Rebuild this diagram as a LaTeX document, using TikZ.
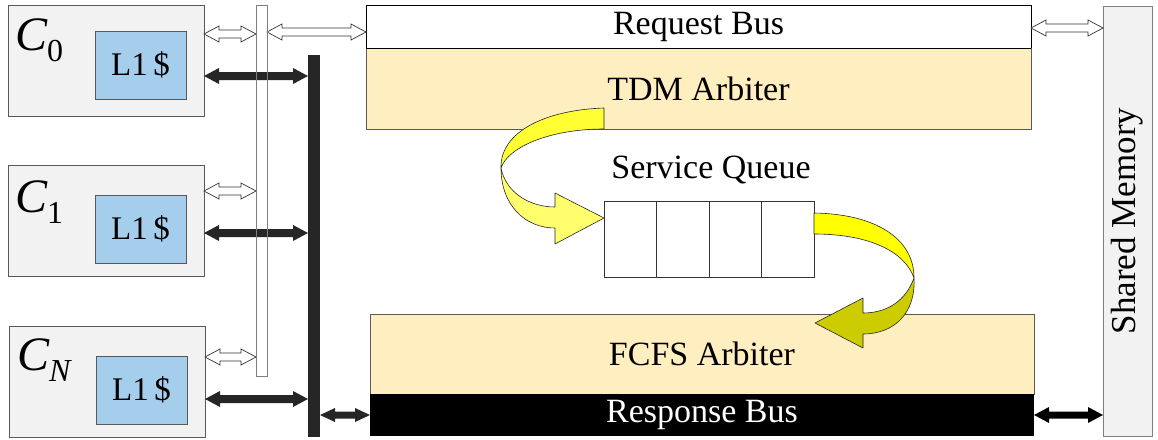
\documentclass[tikz,border=0pt]{standalone}
\usepackage{fontspec}
\setmainfont{Liberation Serif}
\usetikzlibrary{calc}

\definecolor{coregray}{RGB}{242,242,242}
\definecolor{coreline}{RGB}{89,89,89}
\definecolor{cacheblue}{RGB}{164,206,236}
\definecolor{arbfill}{RGB}{255,239,192}
\definecolor{busdark}{RGB}{38,38,38}
\definecolor{memline}{RGB}{127,127,127}
\definecolor{ylwA}{RGB}{255,255,51}
\definecolor{ylwB}{RGB}{255,255,110}
\definecolor{ylwC}{RGB}{255,255,0}
\definecolor{olive}{RGB}{204,204,0}

\newcommand\lblsize{\fontsize{34}{40}\selectfont}
\newcommand\corelabel[1]{{\fontsize{48}{50}\selectfont\itshape C}{\fontsize{32}{34}\selectfont\raisebox{-11pt}{#1}}}

% horizontal double-headed block arrow between two points (same height)
\newcommand\blockarrow[5]{%
  \path[#1] let \p1=#2, \p2=#3 in
    (\x1,\y2) -- (\x1+15pt,\y2+#4) -- (\x1+15pt,\y2+#5) -- (\x2-15pt,\y2+#5)
    -- (\x2-15pt,\y2+#4) -- (\x2,\y2) -- (\x2-15pt,\y2-#4) -- (\x2-15pt,\y2-#5)
    -- (\x1+15pt,\y2-#5) -- (\x1+15pt,\y2-#4) -- cycle;}

\tikzset{
  box/.style={rectangle, inner sep=0pt, outer sep=0pt, anchor=north west, line width=0.8pt},
  core/.style={box, fill=coregray, draw=coreline, minimum width=196pt, minimum height=111pt},
  cache/.style={box, fill=cacheblue, draw=coreline, minimum width=91pt, minimum height=68pt,
    font=\fontsize{33}{36}\selectfont},
  arbiter/.style={box, fill=arbfill, draw=coreline, font=\lblsize},
  cell/.style={box, fill=white, draw=black!80, minimum width=52.5pt, minimum height=76pt},
  hollow/.style={draw=black!80, fill=white, line width=0.7pt},
  solid/.style={fill=busdark},
  ribbon/.style={draw=black!85, line width=0.6pt, line join=round},
}

\begin{document}
\begin{tikzpicture}[x=1pt,y=-1pt]
\useasboundingbox (0,0) rectangle (1158,439);

% processor cores with private caches
\node[core] (c0) at (8,5) {};
\node[cache] (l0) at (95,31) {L1\,\$};
\node[anchor=base west, inner sep=0pt] (t0) at (15,50) {\corelabel{0}};

\node[core] (c1) at (8,165) {};
\node[cache] (l1) at (95,195) {L1\,\$};
\node[anchor=base west, inner sep=0pt] (t1) at (15,212) {\corelabel{1}};

\node[core] (cN) at (9,326) {};
\node[cache] (lN) at (96,356) {L1\,\$};
\node[anchor=base west, inner sep=0pt] (tN) at (17,370) {\corelabel{\itshape N}};

% request-side (thin) and response-side (thick) buses
\node[box, fill=white, draw=memline, minimum width=11pt, minimum height=371pt] (tbus) at (256,5) {};
\node[box, fill=busdark, minimum width=12pt, minimum height=382pt] (kbus) at (308,55) {};

% request bus and TDM arbiter
\node[box, fill=white, draw=black, minimum width=665pt, minimum height=43pt, font=\lblsize] (rb) at (366,5) {Request Bus};
\node[arbiter, minimum width=665pt, minimum height=81pt] (tdm) at (366,48) {TDM Arbiter};
\draw[line width=1pt] (rb.south west) -- (rb.south east);

% FCFS arbiter and response bus
\node[arbiter, minimum width=664pt, minimum height=80pt] (fcfs) at (370,314) {FCFS Arbiter};
\node[box, fill=black, minimum width=664pt, minimum height=42pt, text=white, font=\lblsize] (resp) at (370,394) {Response Bus};

% shared memory
\node[box, fill=coregray, draw=memline, minimum width=49pt, minimum height=430pt] (sm) at (1103,6) {};
\node[rotate=90, font=\fontsize{35}{38}\selectfont, inner sep=0pt] (smt) at (sm.center) {Shared Memory};

% service queue
\node[font=\lblsize, inner sep=0pt] (sqt) at (711,170) {Service Queue};
\node[cell] (q1) at (604,201) {};
\node[cell] (q2) at (q1.north east) {};
\node[cell] (q3) at (q2.north east) {};
\node[cell] (q4) at (q3.north east) {};

% core <-> request bus links (hollow)
\blockarrow{hollow}{(c0.east)}{($(tbus.west |- c0.north)+(0,29)$)}{8pt}{4pt}
\blockarrow{hollow}{(c1.east)}{($(tbus.west |- c1.north)+(0,26)$)}{8pt}{4pt}
\blockarrow{hollow}{(cN.east)}{($(tbus.west |- cN.north)+(0,31)$)}{8pt}{4pt}
\blockarrow{hollow}{(tbus.east)}{($(rb.west |- rb.north)+(0,27)$)}{8pt}{4pt}
\blockarrow{hollow}{(rb.east)}{($(sm.west |- sm.north)+(0,22)$)}{8pt}{4pt}

% core <-> response bus links (solid)
\blockarrow{solid}{(c0.east)}{($(kbus.west |- c0.north)+(0,71)$)}{8pt}{4pt}
\blockarrow{solid}{(c1.east)}{($(kbus.west |- c1.north)+(0,68)$)}{8pt}{4pt}
\blockarrow{solid}{(cN.east)}{($(kbus.west |- cN.north)+(0,73)$)}{8pt}{4pt}
\blockarrow{solid}{(kbus.east)}{(resp.west)}{7pt}{3.5pt}
\blockarrow{fill=black}{(resp.east)}{(sm.west |- resp.west)}{8pt}{3.5pt}

% request bus outline over the crossing links
\draw[memline, line width=0.8pt] (tbus.north west) rectangle (tbus.south east);

% TDM arbiter -> service queue
\draw[ribbon, fill=ylwA] (604,108) .. controls (545,110) and (500,132) .. (501,168)
  .. controls (508,147) and (550,129) .. (604,129) -- cycle;
\draw[ribbon, fill=ylwB] (501,168) .. controls (501,205) and (525,228) .. (555,228)
  -- (555,244) -- (604,218) -- (555,193) -- (555,207)
  .. controls (530,207) and (506,193) .. (501,168) -- cycle;

% service queue -> FCFS arbiter
\draw[ribbon, fill=ylwC] (814,213) .. controls (875,214) and (914,238) .. (914,278)
  .. controls (905,252) and (870,234) .. (814,234) -- cycle;
\draw[ribbon, fill=olive] (914,278) .. controls (916,312) and (895,334) .. (863,334)
  -- (863,348) -- (815,323) -- (863,298) -- (863,313)
  .. controls (888,313) and (906,300) .. (914,278) -- cycle;
\end{tikzpicture}
\end{document}
